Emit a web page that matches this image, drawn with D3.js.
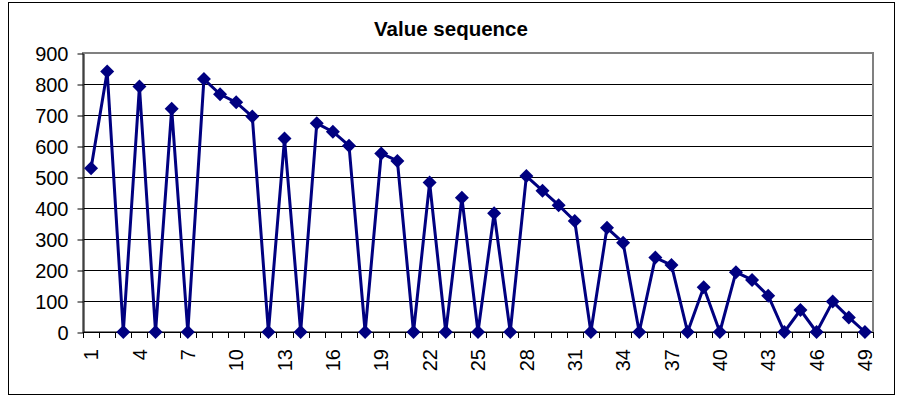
<!DOCTYPE html>
<html>
<head>
<meta charset="utf-8">
<script src="https://cdn.jsdelivr.net/npm/d3@7"></script>
<style>
  body { margin: 0; background: #fff; }
  text { font-family: "Liberation Sans", Arial, sans-serif; fill: #000; }
</style>
</head>
<body>
<div class="chart"></div>
<script>
// chart data
var categories = d3.range(1, 50).map(String);
var values = [528, 840, 0, 792, 0, 720, 0, 816, 767, 741,
              695, 0, 624, 0, 673, 646, 601, 0, 576, 552,
              0, 482, 0, 433, 0, 383, 0, 503, 456, 409,
              358, 0, 336, 288, 0, 240, 216, 0, 144, 0,
              193, 168, 117, 0, 71, 0, 98, 47, 0];
var yTicks = [0, 100, 200, 300, 400, 500, 600, 700, 800, 900];
var xLabels = categories.filter(function(d, i) { return i % 3 === 0; });
var title = "Value sequence";

var W = 898, H = 396;
var plot = {left: 83, right: 873, top: 53, bottom: 332};
var navy = "#000080";

var svg = d3.select(".chart").append("svg")
    .attr("width", W)
    .attr("height", H);

svg.append("rect")
    .attr("width", W).attr("height", H)
    .attr("fill", "#fff");

// outer chart border
svg.append("rect")
    .attr("x", 8.5).attr("y", 2.5)
    .attr("width", 886).attr("height", 392)
    .attr("fill", "none")
    .attr("stroke", "#000");

svg.append("text")
    .attr("x", 451).attr("y", 36)
    .attr("text-anchor", "middle")
    .style("font-size", "20.5px")
    .style("font-weight", "bold")
    .text(title);

var x = d3.scaleBand().domain(categories).range([plot.left, plot.right]);
var y = d3.scaleLinear().domain([0, 900]).range([plot.bottom, plot.top]);

// gridlines
svg.append("g")
    .selectAll("line")
    .data(yTicks.slice(1))
    .enter().append("line")
    .attr("x1", plot.left).attr("x2", plot.right)
    .attr("y1", function(d) { return y(d) + 0.5; })
    .attr("y2", function(d) { return y(d) + 0.5; })
    .attr("stroke", "#000");

// plot area border (grey)
svg.append("rect")
    .attr("x", plot.left).attr("y", plot.top)
    .attr("width", plot.right - plot.left)
    .attr("height", plot.bottom - plot.top)
    .attr("fill", "none")
    .attr("stroke", "#808080")
    .attr("stroke-width", 2);

// y axis
var yAxis = svg.append("g")
    .attr("transform", "translate(" + (plot.left + 0.5) + ",0.5)")
    .call(d3.axisLeft(y).tickValues(yTicks).tickSize(6).tickPadding(9).tickSizeOuter(0));
yAxis.select(".domain").attr("stroke", "#000");
yAxis.selectAll("line").attr("stroke", "#000");
yAxis.selectAll("text")
    .style("font-size", "20px")
    .attr("dy", "0.36em");

// x axis: line, boundary ticks, labels
var xg = svg.append("g");
xg.append("line")
    .attr("x1", plot.left).attr("x2", plot.right + 1)
    .attr("y1", plot.bottom + 0.5).attr("y2", plot.bottom + 0.5)
    .attr("stroke", "#000");
xg.selectAll(".bt")
    .data(d3.range(categories.length + 1))
    .enter().append("line")
    .attr("class", "bt")
    .attr("x1", function(i) { return Math.round(plot.left + i * x.step()) + 0.5; })
    .attr("x2", function(i) { return Math.round(plot.left + i * x.step()) + 0.5; })
    .attr("y1", plot.bottom)
    .attr("y2", plot.bottom + 6)
    .attr("stroke", "#000");
xg.selectAll(".xl")
    .data(xLabels)
    .enter().append("text")
    .attr("class", "xl")
    .attr("transform", function(d) {
        return "translate(" + (x(d) + x.bandwidth() / 2) + "," + 349 + ") rotate(-90)";
    })
    .attr("text-anchor", "end")
    .attr("dy", "0.36em")
    .style("font-size", "20px")
    .text(function(d) { return d; });

// series
var line = d3.line()
    .x(function(d, i) { return x(categories[i]) + x.bandwidth() / 2; })
    .y(function(d) { return y(d); });

svg.append("path")
    .datum(values)
    .attr("d", line)
    .attr("fill", "none")
    .attr("stroke", navy)
    .attr("stroke-width", 3)
    .attr("stroke-linejoin", "round");

var marker = d3.symbol().type(d3.symbolSquare).size(98);
svg.append("g")
    .selectAll("path")
    .data(values)
    .enter().append("path")
    .attr("d", marker)
    .attr("transform", function(d, i) {
        return "translate(" + (x(categories[i]) + x.bandwidth() / 2) + "," + y(d) + ") rotate(45)";
    })
    .attr("fill", navy);
</script>
</body>
</html>
